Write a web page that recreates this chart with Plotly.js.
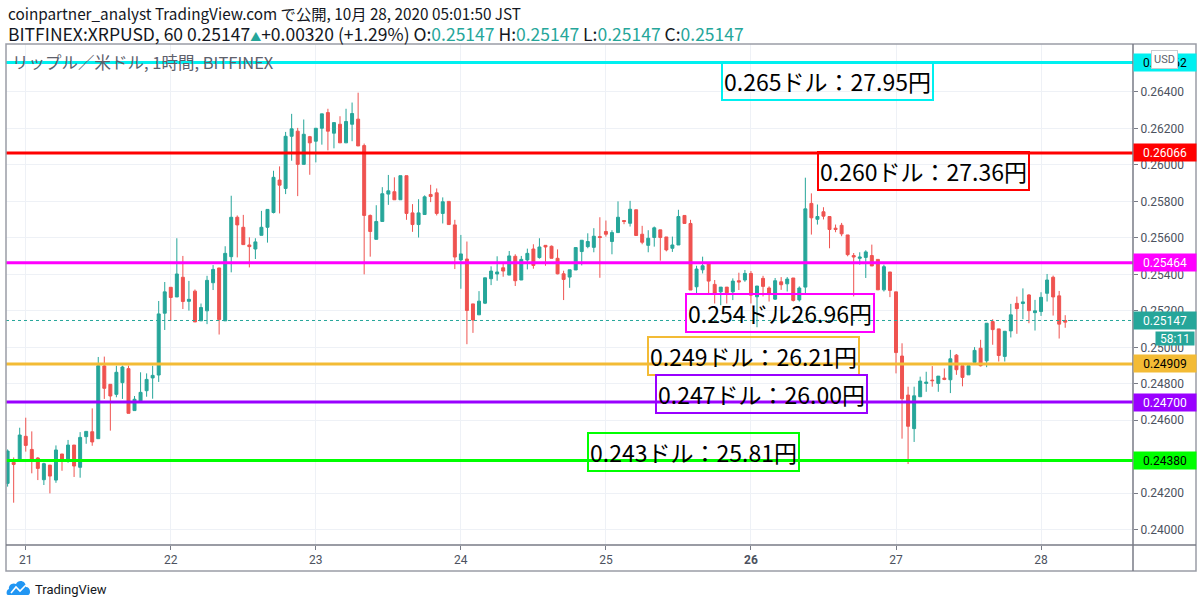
<!DOCTYPE html>
<html>
<head>
<meta charset="utf-8">
<script src="https://cdn.plot.ly/plotly-3.0.1.min.js"></script>
<style>
html,body{margin:0;padding:0;background:#fff;}
#chart{width:1200px;height:607px;}
</style>
</head>
<body>
<div id="chart"></div>
<script>
// ---- data (hourly candles, first candle 2020-10-20 21:00) ----
const startHour = '2020-10-20 21:00';
const openP = [
0.24254,0.24369,0.24385,0.24512,0.24440,0.24393,0.24274,0.24354,0.24272,0.24415,
0.24385,0.24464,0.24342,0.24510,0.24537,0.24499,0.24898,0.24797,0.24742,0.24806,
0.24883,0.24653,0.24706,0.24762,0.24832,0.24848,0.25187,0.25329,0.25276,0.25384,
0.25252,0.25308,0.25145,0.25200,0.25354,0.25435,0.25145,0.25497,0.25713,0.25658,
0.25561,0.25539,0.25614,0.25658,0.25739,0.25917,0.25871,0.26157,0.26185,0.26003,
0.26155,0.26130,0.26201,0.26287,0.26174,0.26223,0.26121,0.26223,0.26251,0.26106,
0.25723,0.25592,0.25690,0.25840,0.25853,0.25809,0.25941,0.25737,0.25673,0.25728,
0.25838,0.25847,0.25734,0.25800,0.25671,0.25479,0.25484,0.25238,0.25178,0.25242,
0.25376,0.25402,0.25436,0.25396,0.25499,0.25369,0.25479,0.25539,0.25492,0.25559,
0.25554,0.25488,0.25403,0.25385,0.25424,0.25525,0.25552,0.25548,0.25607,0.25635,
0.25580,0.25629,0.25695,0.25680,0.25754,0.25620,0.25559,0.25602,0.25644,0.25605,
0.25543,0.25561,0.25723,0.25679,0.25332,0.25425,0.25457,0.25345,0.25304,0.25330,
0.25304,0.25365,0.25369,0.25405,0.25277,0.25378,0.25325,0.25264,0.25359,0.25348,
0.25380,0.25260,0.25330,0.25789,0.25702,0.25743,0.25717,0.25653,0.25669,0.25616,
0.25503,0.25488,0.25493,0.25503,0.25482,0.25315,0.25413,0.25304,0.24952,0.24738,
0.24554,0.24729,0.24802,0.24820,0.24802,0.24831,0.24822,0.24957,0.24899,0.24849,
0.24917,0.24995,0.24926,0.25141,0.25101,0.24950,0.25090,0.25241,0.25240,0.25287,
0.25190,0.25196,0.25296,0.25384,0.25282,0.25147,0.25147];
const highP = [
0.24440,0.24396,0.24559,0.24614,0.24539,0.24398,0.24367,0.24354,0.24462,0.24415,
0.24492,0.24464,0.24535,0.24539,0.24665,0.24947,0.24949,0.24797,0.24899,0.24899,
0.24899,0.24733,0.24863,0.24857,0.24899,0.25254,0.25358,0.25329,0.25598,0.25501,
0.25364,0.25317,0.25240,0.25392,0.25451,0.25435,0.25554,0.25831,0.25723,0.25726,
0.25603,0.25598,0.25748,0.25756,0.25968,0.25992,0.26181,0.26280,0.26203,0.26249,
0.26159,0.26201,0.26280,0.26308,0.26232,0.26267,0.26308,0.26342,0.26396,0.26117,
0.25728,0.25779,0.25878,0.25945,0.25932,0.25941,0.25941,0.25785,0.25812,0.25833,
0.25891,0.25871,0.25822,0.25800,0.25699,0.25616,0.25580,0.25238,0.25308,0.25381,
0.25444,0.25499,0.25460,0.25528,0.25510,0.25501,0.25541,0.25565,0.25598,0.25559,
0.25558,0.25537,0.25420,0.25425,0.25547,0.25587,0.25625,0.25653,0.25713,0.25695,
0.25642,0.25800,0.25695,0.25803,0.25754,0.25666,0.25642,0.25662,0.25644,0.25605,
0.25607,0.25754,0.25723,0.25699,0.25447,0.25497,0.25457,0.25369,0.25330,0.25330,
0.25378,0.25409,0.25424,0.25418,0.25336,0.25392,0.25334,0.25380,0.25385,0.25385,
0.25380,0.25334,0.25930,0.25844,0.25783,0.25768,0.25717,0.25673,0.25682,0.25616,
0.25517,0.25521,0.25532,0.25563,0.25482,0.25453,0.25413,0.25304,0.25022,0.24784,
0.24784,0.24839,0.24866,0.24897,0.24842,0.24884,0.24986,0.24963,0.24899,0.24899,
0.25001,0.25041,0.25132,0.25154,0.25101,0.25088,0.25238,0.25278,0.25323,0.25291,
0.25260,0.25302,0.25402,0.25393,0.25309,0.25176,0.25147];
const lowP = [
0.24236,0.24148,0.24385,0.24428,0.24309,0.24272,0.24245,0.24199,0.24257,0.24323,
0.24367,0.24289,0.24285,0.24471,0.24460,0.24499,0.24717,0.24543,0.24726,0.24717,
0.24638,0.24653,0.24706,0.24729,0.24718,0.24810,0.25095,0.25145,0.25276,0.25210,
0.25201,0.25139,0.25145,0.25127,0.25314,0.25070,0.25145,0.25411,0.25493,0.25563,
0.25438,0.25484,0.25614,0.25574,0.25734,0.25734,0.25840,0.26023,0.25829,0.26003,
0.25946,0.26014,0.26111,0.26080,0.26091,0.26121,0.26121,0.26130,0.26104,0.25400,
0.25497,0.25592,0.25690,0.25781,0.25809,0.25809,0.25699,0.25633,0.25602,0.25728,
0.25796,0.25723,0.25679,0.25673,0.25429,0.25321,0.25017,0.25079,0.25178,0.25237,
0.25341,0.25365,0.25387,0.25396,0.25336,0.25369,0.25427,0.25431,0.25486,0.25447,
0.25488,0.25400,0.25259,0.25326,0.25424,0.25449,0.25543,0.25521,0.25381,0.25607,
0.25510,0.25629,0.25675,0.25662,0.25613,0.25565,0.25521,0.25552,0.25475,0.25526,
0.25523,0.25561,0.25679,0.25314,0.25295,0.25405,0.25290,0.25240,0.25231,0.25240,
0.25259,0.25314,0.25359,0.25240,0.25110,0.25279,0.25251,0.25260,0.25315,0.25306,
0.25251,0.25251,0.25297,0.25618,0.25673,0.25701,0.25543,0.25631,0.25609,0.25499,
0.25279,0.25453,0.25380,0.25446,0.25315,0.25306,0.25275,0.24857,0.24499,0.24360,
0.24481,0.24729,0.24756,0.24784,0.24756,0.24820,0.24749,0.24849,0.24786,0.24849,
0.24917,0.24895,0.24891,0.25014,0.24922,0.24922,0.25054,0.25074,0.25154,0.25132,
0.25092,0.25172,0.25251,0.25174,0.25048,0.25107,0.25147];
const closeP = [
0.24431,0.24358,0.24519,0.24462,0.24387,0.24336,0.24362,0.24294,0.24437,0.24387,
0.24464,0.24349,0.24506,0.24539,0.24481,0.24899,0.24775,0.24733,0.24863,0.24892,
0.24638,0.24715,0.24753,0.24824,0.24846,0.25183,0.25304,0.25273,0.25402,0.25251,
0.25263,0.25139,0.25218,0.25367,0.25427,0.25152,0.25515,0.25713,0.25671,0.25563,
0.25552,0.25578,0.25658,0.25756,0.25932,0.25889,0.26157,0.26198,0.26003,0.26168,
0.26121,0.26201,0.26280,0.26185,0.26232,0.26121,0.26238,0.26282,0.26104,0.25723,
0.25635,0.25690,0.25842,0.25858,0.25809,0.25941,0.25734,0.25673,0.25737,0.25825,
0.25827,0.25734,0.25798,0.25673,0.25495,0.25512,0.25202,0.25150,0.25253,0.25381,
0.25418,0.25413,0.25418,0.25501,0.25365,0.25482,0.25515,0.25449,0.25550,0.25550,
0.25488,0.25403,0.25372,0.25425,0.25547,0.25587,0.25580,0.25609,0.25602,0.25620,
0.25629,0.25713,0.25690,0.25757,0.25613,0.25576,0.25598,0.25655,0.25602,0.25534,
0.25561,0.25717,0.25679,0.25314,0.25429,0.25447,0.25363,0.25297,0.25330,0.25299,
0.25363,0.25358,0.25405,0.25286,0.25336,0.25334,0.25293,0.25365,0.25343,0.25374,
0.25257,0.25325,0.25759,0.25710,0.25717,0.25719,0.25646,0.25646,0.25622,0.25508,
0.25495,0.25495,0.25523,0.25446,0.25315,0.25442,0.25312,0.24971,0.24718,0.24567,
0.24734,0.24815,0.24809,0.24817,0.24842,0.24824,0.24937,0.24877,0.24835,0.24899,
0.24983,0.24899,0.25132,0.25097,0.24955,0.25088,0.25178,0.25212,0.25249,0.25201,
0.25200,0.25274,0.25369,0.25276,0.25127,0.25138,0.25147];

const dayTicks = ['2020-10-21','2020-10-22','2020-10-23','2020-10-24','2020-10-25','2020-10-26','2020-10-27','2020-10-28'];
const dayLabels = ['21','22','23','24','25','<b>26</b>','27','28'];
const priceTicks = [0.240,0.242,0.246,0.248,0.250,0.252,0.254,0.256,0.258,0.260,0.262,0.264];
const priceTickLabels = ['0.24000','0.24200','0.24600','0.24800','0.25000','0.25200','0.25400','0.25600','0.25800','0.26000','0.26200','0.26400'];

const levelPrices = [0.26562, 0.26066, 0.25464, 0.24909, 0.24700, 0.24380];
const levelLabels = ['0.26562','0.26066','0.25464','0.24909','0.24700','0.24380'];
const levelColors = ['#00f0f0','#ff0000','#ff00ff','#f3bb35','#9900ff','#00ff00'];
const levelTextColors = ['#000000','#ffffff','#ffffff','#000000','#ffffff','#000000'];
const noteTexts = ['0.265ドル：27.95円','0.260ドル：27.36円','0.254ドル26.96円','0.249ドル：26.21円','0.247ドル：26.00円','0.243ドル：25.81円'];
const lastPrice = 0.25147;
const lastLabel = '0.25147';
const countdown = '58:11';

// ---- build ----
function hourTimes(n){
  const base = Date.UTC(2020,9,20,21);
  const out = [];
  for(let i=0;i<n;i++){
    out.push(new Date(base + i*3600000).toISOString().slice(0,16).replace('T',' '));
  }
  return out;
}
const times = hourTimes(openP.length);

// pixel helpers for paper positioning (plot area: x 6..1133, y 44..545)
const PL=6, PR=1133, PT=44, PB=545;
const px = x => (x-PL)/(PR-PL);
const py = y => (PB-y)/(PB-PT);

const trace = {
  type:'candlestick', x:times, open:openP, high:highP, low:lowP, close:closeP,
  increasing:{line:{color:'#26a69a',width:1},fillcolor:'#26a69a'},
  decreasing:{line:{color:'#ef5350',width:1},fillcolor:'#ef5350'},
  whiskerwidth:0, hoverinfo:'skip', showlegend:false
};

const shapes = [];
shapes.push({type:'line',xref:'paper',yref:'y',x0:0,x1:1,y0:lastPrice,y1:lastPrice,
  line:{color:'#26a69a',width:1,dash:'dot'},layer:'above'});
levelPrices.forEach((p,i)=>{
  shapes.push({type:'line',xref:'paper',yref:'y',x0:0,x1:1,y0:p,y1:p,
    line:{color:levelColors[i],width:3},layer:'above'});
});
const frameColor = '#9a9da6';
shapes.push({type:'rect',xref:'paper',yref:'paper',x0:0,x1:px(1196),y0:py(571),y1:1,
  line:{color:frameColor,width:1.5},layer:'above'});
shapes.push({type:'line',xref:'paper',yref:'paper',x0:1,x1:1,y0:py(571),y1:1,
  line:{color:'#787b86',width:1.5},layer:'above'});
shapes.push({type:'line',xref:'paper',yref:'paper',x0:0,x1:px(1196),y0:0,y1:0,
  line:{color:'#787b86',width:1.5},layer:'above'});
shapes.push({type:'path',xref:'paper',yref:'paper',
  path:`M ${px(8)},${py(595)} L ${px(28)},${py(595)} C ${px(31)},${py(595)} ${px(31)},${py(587)} ${px(26)},${py(587)} C ${px(26)},${py(580)} ${px(18)},${py(579)} ${px(16)},${py(584)} C ${px(12)},${py(582)} ${px(8)},${py(586)} ${px(9)},${py(589)} C ${px(6)},${py(590)} ${px(6)},${py(595)} ${px(8)},${py(595)} Z`,
  fillcolor:'#2196f3',line:{width:0},layer:'above'});
shapes.push({type:'path',xref:'paper',yref:'paper',
  path:`M ${px(11)},${py(593)} L ${px(16)},${py(587)} L ${px(20)},${py(591)} L ${px(26)},${py(585)}`,
  line:{color:'#ffffff',width:1.6},layer:'above'});

const annotations = [];
const jp = '"Noto Sans CJK JP", "Noto Sans", sans-serif';
annotations.push({xref:'paper',yref:'paper',x:px(6),y:py(13),xanchor:'left',yanchor:'middle',showarrow:false,
  text:'coinpartner_analyst TradingView.com で公開, 10月 28, 2020 05:01:50 JST',
  font:{family:jp,size:15.3,color:'#131722'}});
annotations.push({xref:'paper',yref:'paper',x:px(6),y:py(33),xanchor:'left',yanchor:'middle',showarrow:false,
  text:'BITFINEX:XRPUSD, 60 0.25147<span style="color:#26a69a;font-size:11px">▲</span>+0.00320 (+1.29%) O:<span style="color:#26a69a">0.25147</span> H:<span style="color:#26a69a">0.25147</span> L:<span style="color:#26a69a">0.25147</span> C:<span style="color:#26a69a">0.25147</span>',
  font:{family:jp,size:17.5,color:'#131722'}});
annotations.push({xref:'paper',yref:'paper',x:px(10),y:py(62),xanchor:'left',yanchor:'middle',showarrow:false,
  text:'リップル／米ドル, 1時間, BITFINEX',font:{family:jp,size:16.5,color:'#5d606b'}});

const notePos = [[827,81],[923,171],[780,313],[753,356],[761,394],[693,452]];
noteTexts.forEach((t,i)=>{
  annotations.push({xref:'paper',yref:'paper',x:px(notePos[i][0]),y:py(notePos[i][1]),
    xanchor:'center',yanchor:'middle',showarrow:false,text:t,
    font:{family:jp,size:23,color:'#000000'},bordercolor:levelColors[i],borderwidth:2,borderpad:1,
    bgcolor:'rgba(255,255,255,0)'});
});
const axLabelFont = 'Roboto, "Liberation Sans", sans-serif';
levelPrices.forEach((p,i)=>{
  annotations.push({xref:'paper',yref:'y',x:1,y:p,xanchor:'left',yanchor:'middle',showarrow:false,
    text:levelLabels[i],font:{family:axLabelFont,size:12,color:levelTextColors[i]},
    bgcolor:levelColors[i],width:60,height:15,borderpad:1,align:'center'});
});
annotations.push({xref:'paper',yref:'y',x:1,y:lastPrice,xanchor:'left',yanchor:'middle',showarrow:false,
  text:lastLabel,font:{family:axLabelFont,size:12,color:'#ffffff'},bgcolor:'#26a69a',width:60,height:15,borderpad:1});
annotations.push({xref:'paper',yref:'paper',x:px(1195),y:py(338),xanchor:'right',yanchor:'middle',showarrow:false,
  text:countdown,font:{family:axLabelFont,size:12,color:'#ffffff'},bgcolor:'#26a69a',width:38,height:13,borderpad:0});
annotations.push({xref:'paper',yref:'paper',x:px(1164),y:py(59),xanchor:'center',yanchor:'middle',showarrow:false,
  text:'USD',font:{family:axLabelFont,size:11,color:'#5d606b'},bgcolor:'#ffffff',bordercolor:'#c8cad0',borderwidth:1,borderpad:2});
annotations.push({xref:'paper',yref:'paper',x:px(33),y:py(589),xanchor:'left',yanchor:'middle',showarrow:false,
  text:'TradingView',font:{family:'Roboto, sans-serif',size:13,color:'#131722'}});

const layout = {
  width:1200, height:607,
  margin:{l:PL,r:1200-PR,t:PT,b:607-PB,pad:0},
  paper_bgcolor:'#ffffff', plot_bgcolor:'#ffffff',
  showlegend:false, hovermode:false, dragmode:false,
  xaxis:{type:'date',range:['2020-10-20 20:44','2020-10-28 15:13'],
    rangeslider:{visible:false},
    tickmode:'array',tickvals:dayTicks,ticktext:dayLabels,
    showgrid:true,gridcolor:'#eef1f6',gridwidth:1,
    ticks:'outside',ticklen:4,tickcolor:'#787b86',
    showline:false,zeroline:false,
    tickfont:{family:axLabelFont,size:12,color:'#4c525e'}},
  yaxis:{side:'right',range:[0.23916,0.26663],
    tickmode:'array',tickvals:priceTicks,ticktext:priceTickLabels,
    showgrid:true,gridcolor:'#eef1f6',gridwidth:1,
    ticks:'outside',ticklen:4,tickcolor:'#787b86',
    showline:false,zeroline:false,
    tickfont:{family:axLabelFont,size:12,color:'#4c525e'}},
  shapes:shapes, annotations:annotations
};

Plotly.newPlot('chart',[trace],layout,{staticPlot:true,displayModeBar:false});
</script>
</body>
</html>
